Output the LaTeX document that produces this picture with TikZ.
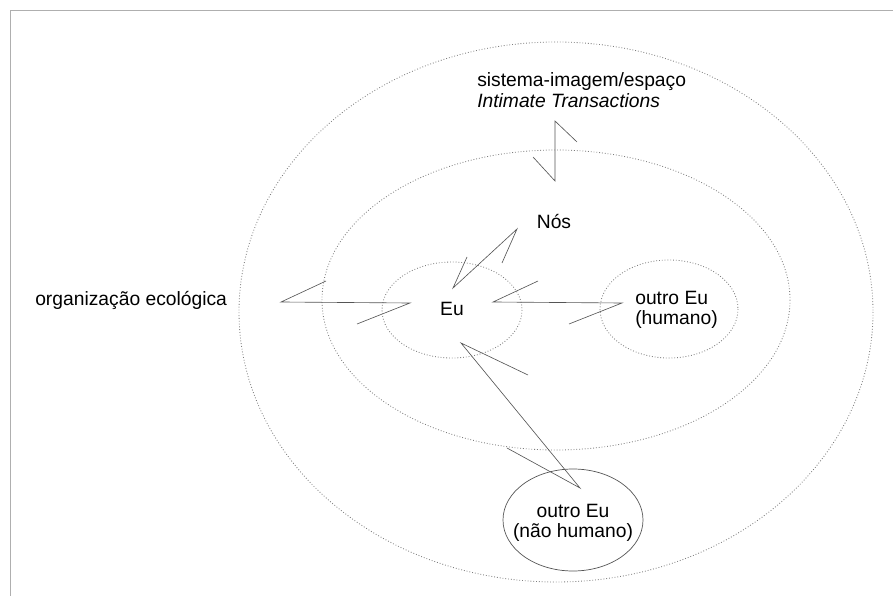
\documentclass[tikz,border=0pt]{standalone}
\usepackage{fontspec}
\setmainfont{Liberation Sans}
\usetikzlibrary{positioning}
\definecolor{framegray}{RGB}{175,175,175}
\definecolor{dotgray}{RGB}{125,125,125}
\definecolor{boltgray}{RGB}{85,85,85}

\begin{document}
\begin{tikzpicture}[x=0.025cm,y=-0.025cm,
    dotring/.style={dotgray,line width=0.6pt,dash pattern=on 0.6pt off 1.4pt},
    bolt/.style={boltgray,line width=0.45pt},
    lbl/.style={inner sep=0pt,font={\fontsize{13.7}{14.4}\selectfont}}]
  \useasboundingbox (0,0) rectangle (893,596);
  \draw[framegray,line width=0.6pt] (10,596) -- (10,10) -- (893,10);
  % rings
  \draw[dotring] (556,312) ellipse [x radius=317,y radius=270];
  \draw[dotring] (556,300) ellipse [x radius=234,y radius=150];
  \draw[dotring] (452,310) ellipse [x radius=70,y radius=48];
  \draw[dotring] (669,309) ellipse [x radius=69,y radius=49];
  \draw[boltgray,line width=0.5pt] (573,520) ellipse [x radius=70,y radius=51];
  % labels
  \node[lbl,anchor=west,align=left] (sistema) at (477,90)
    {sistema-imagem/espaço\\\textit{Intimate Transactions}};
  \node[lbl] (nos) at (554,222) {Nós};
  \node[lbl] (eu) at (452,309) {Eu};
  \node[lbl,anchor=west,align=left] (humano) at (635,310) {outro Eu\\(humano)};
  \node[lbl,align=center] (naohumano) at (573,523) {outro Eu\\(não humano)};
  \node[lbl,anchor=west] (ecologia) at (35,300) {organização ecológica};
  % zigzag links
  \foreach \ax/\ay/\bx/\by/\cx/\cy/\dx/\dy in
    {577/142/555/121/555/181/533/157,
     326/281/281/302/410/303/357/324,
     502/263/517/229/453/288/467/257,
     538/281/493/302/622/303/569/324,
     528/375/461/343/580/488/507/448}
    \draw[bolt] (\ax,\ay) -- (\bx,\by) -- (\cx,\cy) -- (\dx,\dy);
\end{tikzpicture}
\end{document}
